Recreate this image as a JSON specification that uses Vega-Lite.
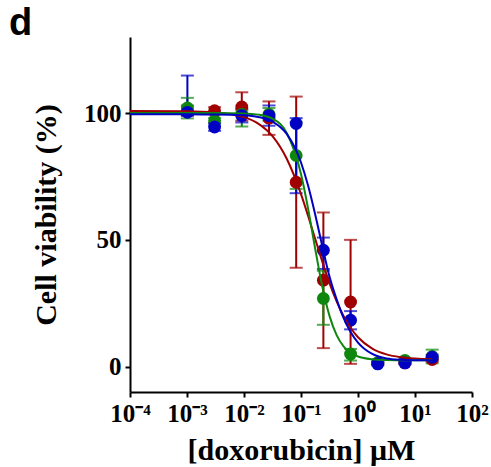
{
  "$schema": "https://vega.github.io/schema/vega-lite/v6.json",
  "width": 342,
  "height": 355,
  "autosize": "none",
  "padding": {"left": 130, "top": 37, "right": 19, "bottom": 75},
  "background": "white",
  "config": {
    "view": {"stroke": null},
    "axis": {
      "grid": false,
      "domainColor": "black",
      "domainWidth": 2,
      "tickColor": "black",
      "tickWidth": 2,
      "tickSize": 5,
      "labelColor": "black",
      "titleColor": "black",
      "labelFont": "Liberation Serif",
      "labelFontWeight": "bold",
      "labelFontSize": 25,
      "titleFont": "Liberation Serif",
      "titleFontWeight": "bold",
      "titleFontSize": 30
    }
  },
  "title": {
    "text": "d",
    "anchor": "start",
    "frame": "group",
    "dx": -121,
    "dy": 36,
    "offset": 0,
    "baseline": "alphabetic",
    "font": "Liberation Sans",
    "fontSize": 38,
    "fontWeight": "bold",
    "color": "black"
  },
  "datasets": {
    "points": [
      {"s": "red", "conc": 0.001016, "mean": 101, "lo": 99, "hi": 103},
      {"s": "red", "conc": 0.003048, "mean": 100.9, "lo": 99.5, "hi": 102.3},
      {"s": "red", "conc": 0.009145, "mean": 102.4, "lo": 97, "hi": 108.2},
      {"s": "red", "conc": 0.02743, "mean": 98, "lo": 91.4, "hi": 104.6},
      {"s": "red", "conc": 0.0823, "mean": 72.7, "lo": 39, "hi": 106.5},
      {"s": "red", "conc": 0.2469, "mean": 34.1, "lo": 7.3, "hi": 60.8},
      {"s": "red", "conc": 0.7407, "mean": 25.5, "lo": 1.1, "hi": 50},
      {"s": "red", "conc": 2.222, "mean": 1.5, "lo": 1, "hi": 2},
      {"s": "red", "conc": 6.667, "mean": 1.5, "lo": 1, "hi": 2},
      {"s": "red", "conc": 20, "mean": 2.8, "lo": 2, "hi": 3.6},
      {"s": "green", "conc": 0.001016, "mean": 102, "lo": 97.9, "hi": 106},
      {"s": "green", "conc": 0.003048, "mean": 97, "lo": 96, "hi": 98},
      {"s": "green", "conc": 0.009145, "mean": 99.5, "lo": 94.7, "hi": 101},
      {"s": "green", "conc": 0.02743, "mean": 99.5, "lo": 97, "hi": 102},
      {"s": "green", "conc": 0.0823, "mean": 83.3, "lo": 70.1, "hi": 96.5},
      {"s": "green", "conc": 0.2469, "mean": 26.9, "lo": 16.5, "hi": 37.8},
      {"s": "green", "conc": 0.7407, "mean": 5, "lo": 2.4, "hi": 7},
      {"s": "green", "conc": 2.222, "mean": 1.5, "lo": 1, "hi": 2},
      {"s": "green", "conc": 6.667, "mean": 2.5, "lo": 2, "hi": 3},
      {"s": "green", "conc": 20, "mean": 4, "lo": 1.3, "hi": 6.7},
      {"s": "blue", "conc": 0.001016, "mean": 100.3, "lo": 99, "hi": 114.8},
      {"s": "blue", "conc": 0.003048, "mean": 94.5, "lo": 93, "hi": 96},
      {"s": "blue", "conc": 0.009145, "mean": 99, "lo": 96.3, "hi": 101.7},
      {"s": "blue", "conc": 0.02743, "mean": 99, "lo": 95, "hi": 103},
      {"s": "blue", "conc": 0.0823, "mean": 95.9, "lo": 68.4, "hi": 98},
      {"s": "blue", "conc": 0.2469, "mean": 45.9, "lo": 38.5, "hi": 50.9},
      {"s": "blue", "conc": 0.7407, "mean": 18.3, "lo": 14.7, "hi": 21.9},
      {"s": "blue", "conc": 2.222, "mean": 1.1, "lo": 0.5, "hi": 1.7},
      {"s": "blue", "conc": 6.667, "mean": 1.5, "lo": 1, "hi": 2},
      {"s": "blue", "conc": 20, "mean": 3.7, "lo": 2.7, "hi": 4.7}
    ],
    "curves": [
      {"s": "red", "conc": 0.0001, "v": 100.79},
      {"s": "red", "conc": 0.001, "v": 100.68},
      {"s": "red", "conc": 0.003162, "v": 100.25},
      {"s": "red", "conc": 0.01, "v": 98.39},
      {"s": "red", "conc": 0.01778, "v": 95.84},
      {"s": "red", "conc": 0.03162, "v": 90.88},
      {"s": "red", "conc": 0.05623, "v": 81.96},
      {"s": "red", "conc": 0.1, "v": 68.01},
      {"s": "red", "conc": 0.1334, "v": 59.4},
      {"s": "red", "conc": 0.1778, "v": 50.3},
      {"s": "red", "conc": 0.2371, "v": 41.3},
      {"s": "red", "conc": 0.3162, "v": 32.94},
      {"s": "red", "conc": 0.4217, "v": 25.71},
      {"s": "red", "conc": 0.5623, "v": 19.79},
      {"s": "red", "conc": 0.7499, "v": 15.13},
      {"s": "red", "conc": 1, "v": 11.6},
      {"s": "red", "conc": 1.778, "v": 7.12},
      {"s": "red", "conc": 3.162, "v": 4.84},
      {"s": "red", "conc": 5.623, "v": 3.73},
      {"s": "red", "conc": 10, "v": 3.19},
      {"s": "red", "conc": 20, "v": 2.9},
      {"s": "green", "conc": 0.0001, "v": 100},
      {"s": "green", "conc": 0.001, "v": 100},
      {"s": "green", "conc": 0.003162, "v": 99.99},
      {"s": "green", "conc": 0.01, "v": 99.84},
      {"s": "green", "conc": 0.01778, "v": 99.39},
      {"s": "green", "conc": 0.03162, "v": 97.77},
      {"s": "green", "conc": 0.05623, "v": 92.16},
      {"s": "green", "conc": 0.1, "v": 75.97},
      {"s": "green", "conc": 0.1334, "v": 62.24},
      {"s": "green", "conc": 0.1778, "v": 46.38},
      {"s": "green", "conc": 0.2371, "v": 31.5},
      {"s": "green", "conc": 0.3162, "v": 20.02},
      {"s": "green", "conc": 0.4217, "v": 12.42},
      {"s": "green", "conc": 0.5623, "v": 7.9},
      {"s": "green", "conc": 0.7499, "v": 5.37},
      {"s": "green", "conc": 1, "v": 4.0},
      {"s": "green", "conc": 1.778, "v": 2.91},
      {"s": "green", "conc": 3.162, "v": 2.61},
      {"s": "green", "conc": 5.623, "v": 2.53},
      {"s": "green", "conc": 10, "v": 2.51},
      {"s": "green", "conc": 20, "v": 2.5},
      {"s": "blue", "conc": 0.0001, "v": 99.5},
      {"s": "blue", "conc": 0.001, "v": 99.49},
      {"s": "blue", "conc": 0.003162, "v": 99.45},
      {"s": "blue", "conc": 0.01, "v": 99.13},
      {"s": "blue", "conc": 0.01778, "v": 98.46},
      {"s": "blue", "conc": 0.03162, "v": 96.61},
      {"s": "blue", "conc": 0.05623, "v": 91.79},
      {"s": "blue", "conc": 0.1, "v": 80.5},
      {"s": "blue", "conc": 0.1334, "v": 71.3},
      {"s": "blue", "conc": 0.1778, "v": 59.9},
      {"s": "blue", "conc": 0.2371, "v": 47.4},
      {"s": "blue", "conc": 0.3162, "v": 35.5},
      {"s": "blue", "conc": 0.4217, "v": 26.5},
      {"s": "blue", "conc": 0.5623, "v": 19},
      {"s": "blue", "conc": 0.7499, "v": 13.5},
      {"s": "blue", "conc": 1, "v": 9.5},
      {"s": "blue", "conc": 1.778, "v": 5},
      {"s": "blue", "conc": 3.162, "v": 3.2},
      {"s": "blue", "conc": 5.623, "v": 2.7},
      {"s": "blue", "conc": 10, "v": 2.55},
      {"s": "blue", "conc": 20, "v": 2.5}
    ]
  },
  "layer": [
    {
      "mark": {"type": "rule", "color": "black", "strokeWidth": 1.3, "strokeDash": [1.5, 3.5]},
      "encoding": {
        "y": {"datum": 0, "type": "quantitative", "scale": {"domain": [-10, 130], "nice": false, "zero": false},
          "axis": {"values": [0, 50, 100], "title": "Cell viability (%)", "titlePadding": 22, "labelPadding": 4}}
      }
    },
    {
      "data": {"name": "points"},
      "mark": {"type": "rule", "strokeWidth": 2},
      "encoding": {
        "x": {"field": "conc", "type": "quantitative",
          "scale": {"type": "log", "domain": [0.0001, 100], "nice": false},
          "axis": {"values": [0.0001, 0.001, 0.01, 0.1, 1, 10, 100],
            "labelExpr": "'10' + ['⁻⁴','⁻³','⁻²','⁻¹','⁰','¹','²'][round(log(datum.value)/LN10) + 4]",
            "title": "[doxorubicin] μM", "titlePadding": 9, "labelPadding": 4, "labelFlush": false, "labelOverlap": false}},
        "y": {"field": "lo", "type": "quantitative"},
        "y2": {"field": "hi"},
        "color": {"field": "s", "type": "nominal", "scale": {"domain": ["red", "green", "blue"], "range": ["#a00000", "#0f870f", "#0000c4"]}, "legend": null}
      }
    },
    {
      "data": {"name": "points"},
      "mark": {"type": "tick", "orient": "horizontal", "size": 13, "thickness": 2},
      "encoding": {
        "x": {"field": "conc", "type": "quantitative"},
        "y": {"field": "lo", "type": "quantitative"},
        "color": {"field": "s", "type": "nominal", "legend": null}
      }
    },
    {
      "data": {"name": "points"},
      "mark": {"type": "tick", "orient": "horizontal", "size": 13, "thickness": 2},
      "encoding": {
        "x": {"field": "conc", "type": "quantitative"},
        "y": {"field": "hi", "type": "quantitative"},
        "color": {"field": "s", "type": "nominal", "legend": null}
      }
    },
    {
      "data": {"name": "points"},
      "mark": {"type": "circle", "size": 165, "opacity": 1},
      "encoding": {
        "x": {"field": "conc", "type": "quantitative"},
        "y": {"field": "mean", "type": "quantitative"},
        "color": {"field": "s", "type": "nominal", "legend": null}
      }
    },
    {
      "data": {"name": "curves"},
      "mark": {"type": "line", "strokeWidth": 2, "interpolate": "monotone"},
      "encoding": {
        "x": {"field": "conc", "type": "quantitative"},
        "y": {"field": "v", "type": "quantitative"},
        "color": {"field": "s", "type": "nominal", "legend": null}
      }
    }
  ]
}
